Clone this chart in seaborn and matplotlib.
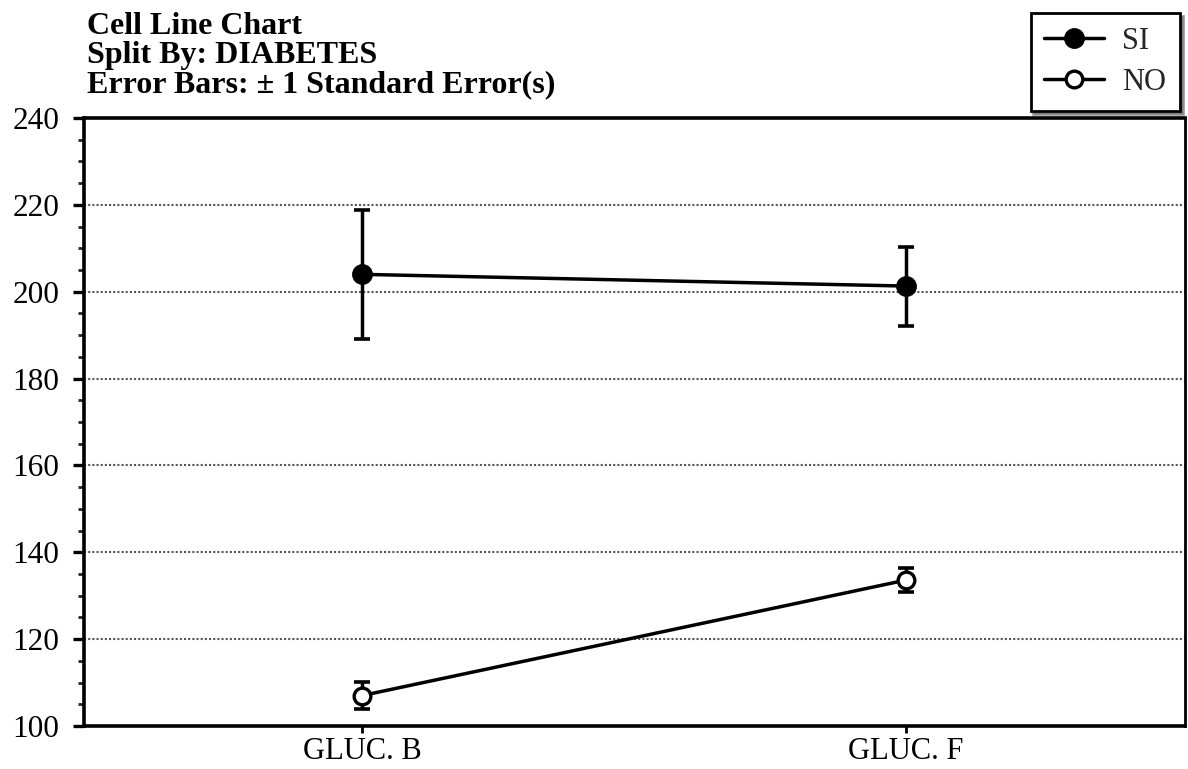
import numpy as np
import pandas as pd
import matplotlib
matplotlib.use("Agg")
import matplotlib.pyplot as plt
from matplotlib.lines import Line2D
from matplotlib.ticker import MultipleLocator
import seaborn as sns

# Cell means and standard errors of glucose, split by diabetes status
categories = ["GLUC. B", "GLUC. F"]
si_means = [204.0, 201.3]
si_se = [14.8, 9.1]
no_means = [107.0, 133.6]
no_se = [3.1, 2.7]
series_names = ["SI", "NO"]
title_lines = ["Cell Line Chart", "Split By: DIABETES",
               "Error Bars: \u00b1 1 Standard Error(s)"]

df = pd.DataFrame({
    "cell": categories * 2,
    "mean": si_means + no_means,
    "se": si_se + no_se,
    "group": [series_names[0]] * 2 + [series_names[1]] * 2,
})

sns.set_theme(style="white")
plt.rcParams["font.family"] = ["Liberation Serif", "DejaVu Serif"]

W, H = 1188, 769
fig = plt.figure(figsize=(W / 100, H / 100), dpi=100)
ax = fig.add_axes([84 / W, 1 - 726 / H, (1185 - 84) / W, (726 - 118) / H])

styles = {
    "SI": dict(marker="o", markersize=13.5, markerfacecolor="black",
               markeredgecolor="black", markeredgewidth=1.5),
    "NO": dict(marker="o", markersize=12, markerfacecolor="white",
               markeredgecolor="black", markeredgewidth=2.4),
}

for name in series_names:
    sub = df[df["group"] == name]
    ax.errorbar(sub["cell"], sub["mean"], yerr=sub["se"], fmt="none",
                ecolor="black", elinewidth=2.5, capsize=5.5, capthick=2.6,
                zorder=3)
    sns.lineplot(data=sub, x="cell", y="mean", ax=ax, color="black",
                 linewidth=2.5, zorder=4, legend=False, **styles[name])

ax.set_xlim(-0.511, 1.513)
ax.set_ylim(100, 240)
ax.yaxis.set_major_locator(MultipleLocator(20))
ax.yaxis.set_minor_locator(MultipleLocator(5))
ax.set_xlabel("")
ax.set_ylabel("")

ax.grid(False)
for v in range(120, 240, 20):
    ax.axhline(v, color="#555555", linewidth=1.5, linestyle=(0, (1, 1)), zorder=1)

for side in ["left", "bottom", "top"]:
    ax.spines[side].set_linewidth(2.6)
    ax.spines[side].set_color("black")
ax.spines["right"].set_linewidth(2.0)
ax.spines["right"].set_color("black")

ax.tick_params(axis="y", which="major", direction="out", length=8, width=2.4,
               labelsize=22.5, pad=10, left=True, colors="black")
ax.tick_params(axis="y", which="minor", direction="out", length=4.5, width=2.0,
               left=True)
ax.tick_params(axis="x", which="major", direction="out", length=5, width=2.0,
               labelsize=22, pad=3, bottom=True, colors="black")

for line, base in zip(title_lines, [34, 63, 92]):
    fig.text(87 / W, 1 - base / H, line, ha="left", va="baseline",
             fontsize=23, fontweight="bold", color="black")

handles = [
    Line2D([], [], color="black", linewidth=2.5, **styles["SI"]),
    Line2D([], [], color="black", linewidth=2.5, **styles["NO"]),
]
leg = ax.legend(handles, series_names, loc="upper right",
                bbox_to_anchor=(1180 / W, 1 - 13 / H),
                bbox_transform=fig.transFigure, borderaxespad=0,
                fontsize=22, frameon=True, fancybox=False, shadow=True,
                edgecolor="black", facecolor="white", framealpha=1,
                handlelength=1.95, labelspacing=0.4, handletextpad=0.6,
                borderpad=0.45)
leg.get_frame().set_linewidth(2.0)
leg.set_zorder(10)

fig.savefig("out.png", dpi=100)
